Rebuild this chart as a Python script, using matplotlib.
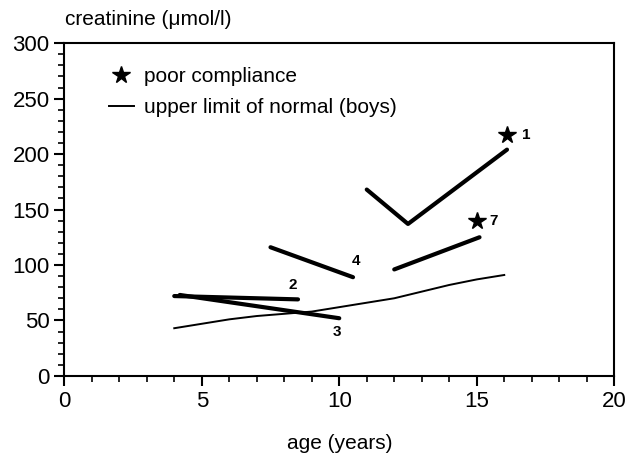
import matplotlib.pyplot as plt
from matplotlib.lines import Line2D
from matplotlib.ticker import MultipleLocator

plt.rcParams['font.family'] = ['Liberation Sans', 'DejaVu Sans']

# upper limit of normal creatinine for boys
normal_age = [4, 5, 6, 7, 8, 9, 10, 11, 12, 13, 14, 15, 16]
normal_crea = [43, 47, 51, 54, 56, 58, 62, 66, 70, 76, 82, 87, 91]

# individual patients: age (years) and creatinine (umol/l)
p1_age = [11.0, 12.5, 16.1]
p1_crea = [168, 137, 204]
p2_age = [4.0, 8.5]
p2_crea = [72, 69]
p3_age = [4.2, 10.0]
p3_crea = [73, 52]
p4_age = [7.5, 10.5]
p4_crea = [116, 89]
p7_age = [12.0, 15.1]
p7_crea = [96, 125]

patient_ids = ['1', '2', '3', '4', '7']
label_x = [16.8, 8.3, 9.9, 10.6, 15.6]
label_y = [217, 82, 40, 104, 140]
poor_compliance_x = [16.1, 15.0]
poor_compliance_y = [217, 140]

fig = plt.figure(figsize=(6.3, 4.59), dpi=100)
ax = fig.add_axes([0.102, 0.181, 0.873, 0.725])

ax.plot(normal_age, normal_crea, color='black', lw=1.4)
for xs, ys in [(p1_age, p1_crea), (p2_age, p2_crea), (p3_age, p3_crea),
               (p4_age, p4_crea), (p7_age, p7_crea)]:
    ax.plot(xs, ys, color='black', lw=3, solid_capstyle='round')

ax.plot(poor_compliance_x, poor_compliance_y, '*', color='black', ms=13, ls='none')
for t, x, y in zip(patient_ids, label_x, label_y):
    ax.text(x, y, t, fontsize=11, fontweight='bold', ha='center', va='center')

ax.set_xlim(0, 20)
ax.set_ylim(0, 300)
ax.xaxis.set_major_locator(MultipleLocator(5))
ax.xaxis.set_minor_locator(MultipleLocator(1))
ax.yaxis.set_major_locator(MultipleLocator(50))
ax.yaxis.set_minor_locator(MultipleLocator(10))
ax.tick_params(which='major', length=7, width=1.5, labelsize=16, direction='out')
ax.tick_params(which='minor', length=4, width=1.2, direction='out')
for s in ax.spines.values():
    s.set_linewidth(1.5)

ax.set_xlabel('age (years)', fontsize=15, labelpad=16)
fig.text(0.103, 0.957, 'creatinine (\u03bcmol/l)', fontsize=15, ha='left', va='center')

handles = [Line2D([], [], marker='*', color='black', ls='none', ms=13),
           Line2D([], [], color='black', lw=1.4)]
ax.legend(handles, ['poor compliance', 'upper limit of normal (boys)'],
          loc='upper left', bbox_to_anchor=(0.047, 0.985), frameon=False,
          fontsize=15, handlelength=1.2, handletextpad=0.5, labelspacing=0.6)

fig.savefig('out.png', dpi=100)
